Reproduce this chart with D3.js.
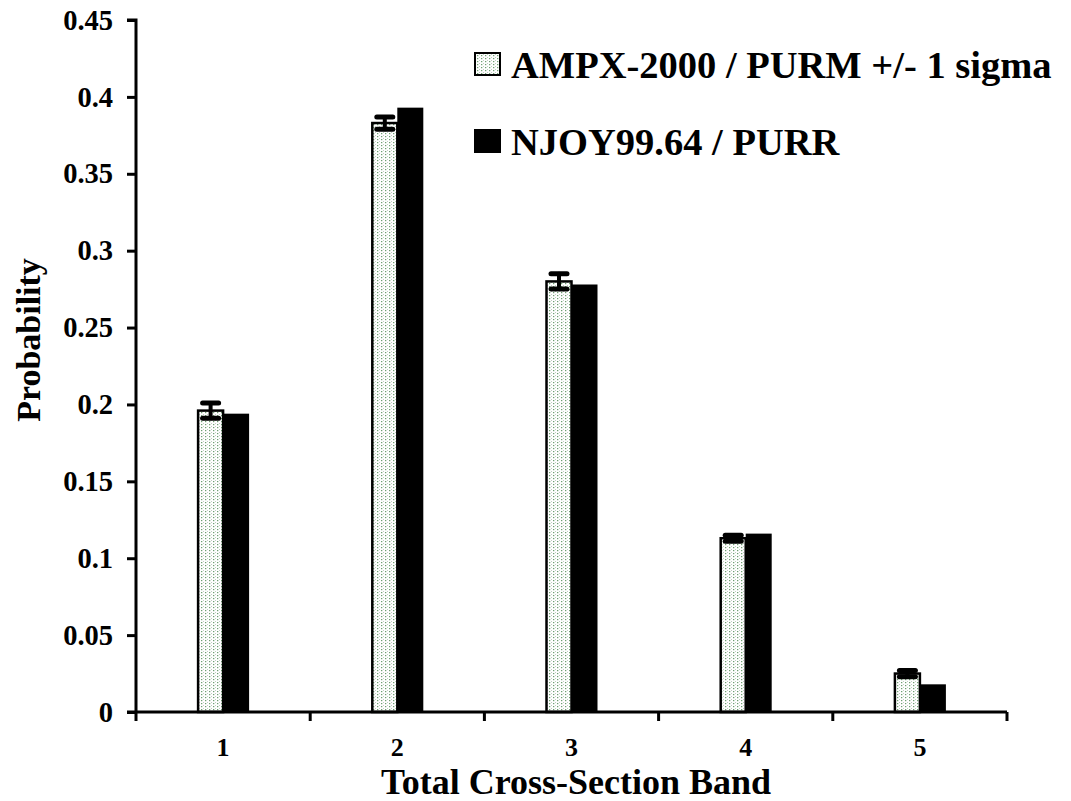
<!DOCTYPE html>
<html>
<head>
<meta charset="utf-8">
<script src="https://cdn.jsdelivr.net/npm/d3@7"></script>
<style>
  body { margin: 0; background: #fff; }
  svg text { font-family: "Times New Roman", "Liberation Serif", serif; font-weight: bold; fill: #000; }
</style>
</head>
<body>
<div id="chart"></div>
<script>
const bands = ["1", "2", "3", "4", "5"]
const ampx = [0.196, 0.383, 0.280, 0.113, 0.025]
const ampxSigma = [0.005, 0.004, 0.005, 0.002, 0.002]
const njoy = [0.194, 0.393, 0.278, 0.116, 0.018]
const yTicks = [0, 0.05, 0.1, 0.15, 0.2, 0.25, 0.3, 0.35, 0.4, 0.45]
const seriesNames = ["AMPX-2000 / PURM +/- 1 sigma", "NJOY99.64 / PURR"]

const width = 1071
const height = 801

const svg = d3.select("#chart")
  .append("svg")
  .attr("width", width)
  .attr("height", height)

/* dotted fill for the AMPX bars */
const pat = svg.append("defs").append("pattern")
  .attr("id", "dots")
  .attr("patternUnits", "userSpaceOnUse")
  .attr("width", 4)
  .attr("height", 3)
pat.append("rect").attr("width", 4).attr("height", 3).attr("fill", "#fff")
pat.append("rect").attr("x", 1).attr("y", 1).attr("width", 1.3).attr("height", 1.2).attr("fill", "#6f9f72")
pat.append("rect").attr("x", 3).attr("y", 0).attr("width", 1).attr("height", 1).attr("fill", "#c2cec2")

const x0 = 136
const x1 = 1007
const y0 = 712
const y1 = 20

const x = d3.scaleBand()
  .domain(bands)
  .range([x0, x1])

const y = d3.scaleLinear()
  .domain([0, 0.45])
  .range([y0, y1])

const barW = 25

/* bars */
const g = svg.append("g")

g.selectAll(".ampx")
  .data(bands)
  .join("rect")
  .attr("x", (d, i) => x(d) + x.bandwidth()/2 - barW)
  .attr("y", (d, i) => y(ampx[i]))
  .attr("width", barW)
  .attr("height", (d, i) => y0 - y(ampx[i]))
  .attr("fill", "url(#dots)")
  .attr("stroke", "#000")
  .attr("stroke-width", 2.5)

g.selectAll(".njoy")
  .data(bands)
  .join("rect")
  .attr("x", d => x(d) + x.bandwidth()/2)
  .attr("y", (d, i) => y(njoy[i]))
  .attr("width", barW + 1)
  .attr("height", (d, i) => y0 - y(njoy[i]))
  .attr("fill", "#000")

/* error bars */
const err = svg.append("g")
  .attr("stroke", "#000")
  .attr("stroke-linecap", "round")

bands.forEach((d, i) => {
  const cx = x(d) + x.bandwidth()/2 - barW/2
  const hi = y(ampx[i] + ampxSigma[i])
  const lo = y(ampx[i] - ampxSigma[i])
  err.append("line").attr("x1", cx).attr("x2", cx).attr("y1", hi).attr("y2", lo).attr("stroke-width", 4)
  err.append("line").attr("x1", cx - 8).attr("x2", cx + 8).attr("y1", hi).attr("y2", hi).attr("stroke-width", 5)
  err.append("line").attr("x1", cx - 8).attr("x2", cx + 8).attr("y1", lo).attr("y2", lo).attr("stroke-width", 5)
})

/* axes */
const yAxis = svg.append("g")
  .attr("transform", `translate(${x0},0)`)
  .call(d3.axisLeft(y).tickValues(yTicks).tickFormat(d => d3.format("")(+d.toFixed(2))).tickSize(9).tickPadding(14))

yAxis.select(".domain").attr("stroke-width", 3).attr("d", `M-9,${y1}H0V${y0 + 9}`)
yAxis.selectAll(".tick line").attr("stroke-width", 3)
yAxis.selectAll(".tick text").style("font-size", "28.5px")

const xAxis = svg.append("g")
  .attr("transform", `translate(0,${y0})`)
  .call(d3.axisBottom(x).tickSize(0).tickPadding(26))

xAxis.select(".domain").attr("stroke-width", 3).attr("d", `M${x0 - 9},0H${x1}`)
xAxis.selectAll(".tick text").style("font-size", "26px")

svg.append("g")
  .selectAll("line")
  .data(bands)
  .join("line")
  .attr("x1", d => x(d) + x.bandwidth())
  .attr("x2", d => x(d) + x.bandwidth())
  .attr("y1", y0)
  .attr("y2", y0 + 9)
  .attr("stroke", "#000")
  .attr("stroke-width", 3)

/* titles */
svg.append("text")
  .attr("x", 576)
  .attr("y", 794)
  .attr("text-anchor", "middle")
  .style("font-size", "36px")
  .text("Total Cross-Section Band")

svg.append("text")
  .attr("transform", "translate(40,340) rotate(-90)")
  .attr("text-anchor", "middle")
  .style("font-size", "34px")
  .text("Probability")

/* legend */
const legend = svg.append("g")
const fills = ["url(#dots)", "#000"]
seriesNames.forEach((name, i) => {
  const ly = 53 + i * 77
  legend.append("rect")
    .attr("x", 475).attr("y", ly)
    .attr("width", 25).attr("height", 22)
    .attr("fill", fills[i])
    .attr("stroke", "#000")
    .attr("stroke-width", 2)
  legend.append("text")
    .attr("x", 511).attr("y", ly + 25)
    .style("font-size", "38.5px")
    .text(name)
})
</script>
</body>
</html>
